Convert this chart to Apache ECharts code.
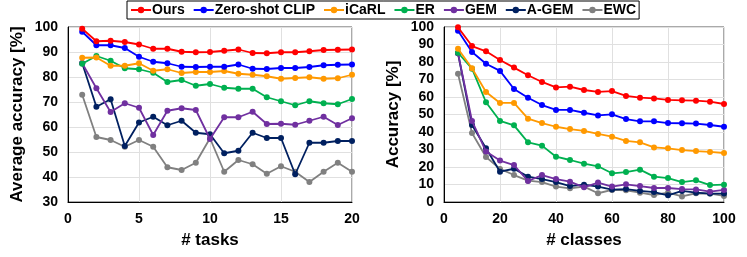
<!DOCTYPE html>
<html><head><meta charset="utf-8">
<script src="https://cdn.jsdelivr.net/npm/echarts@6/dist/echarts.min.js"></script>
<style>html,body{margin:0;padding:0;background:#fff}#c{width:747px;height:257px}</style>
</head><body><div id="c"></div>
<script>
const seriesNames = ['Ours','Zero-shot CLIP','iCaRL','ER','GEM','A-GEM','EWC'];
const colors = ['#ff0000','#0000ff','#ff9900','#00b050','#7030a0','#002060','#808080'];

const tasks = [1,2,3,4,5,6,7,8,9,10,11,12,13,14,15,16,17,18,19,20];
const tasksOurs = [99.3,94.3,94.5,94,93,91.3,91.3,90.1,89.9,90,90.5,91,89.6,89.5,89.9,89.9,90.3,90.8,90.9,91];
const tasksCLIP = [98.1,92.7,92.7,91.6,88.1,86.1,85.5,84.1,84,84.1,84.1,85,83.3,83.2,83.6,83.6,84,84.7,84.9,85];
const tasksICaRL = [87.7,87.8,84.5,84.5,85.5,82.5,83.1,81.6,82,82,82.4,81.3,80.9,80.3,79.3,79.6,79.9,79.3,79.5,80.9];
const tasksER = [85.3,88.4,86.5,83.5,83.1,81.7,78,78.8,76.5,77.2,75.7,75.3,75.3,71.9,70.3,68.7,70.3,69.5,69.1,71.2];
const tasksGEM = [85.5,75.5,66,69.5,67.7,56.8,66.5,67.5,66.8,55.2,63.9,63.9,66.1,61.2,61.3,60.9,62.5,64.1,60.8,63.5];
const tasksAGEM = [85.5,68.1,71.1,52.4,61.8,64.1,60.7,62.5,57.7,57.1,49.5,50.5,57.7,55.6,55.6,41.1,53.7,53.7,54.4,54.4];
const tasksEWC = [72.9,56,54.8,52.1,54.8,52.1,43.9,42.8,45.7,55.5,42.1,46.8,45.1,41.3,44.3,42.1,38,42.1,45.7,42.1];

const classes = [5,10,15,20,25,30,35,40,45,50,55,60,65,70,75,80,85,90,95,100];
const clsOurs = [99.8,89.1,86.1,81.1,76.8,72.4,68.6,65.5,65.9,64,62.9,63.4,60.6,59.6,59.2,58.3,58.1,57.9,57.3,56];
const clsCLIP = [97.9,85.7,79,74.9,64.6,59.6,55.4,52.6,52.6,51,49.5,50.1,47.4,46.1,46.1,45.1,45,44.8,44,43];
const clsICaRL = [87.6,76.4,62.9,56.6,56.6,47.6,45.1,43,41.7,40.6,38.9,37.3,34.9,34.1,31.2,30.7,29.7,29.1,28.6,28];
const clsER = [85.3,76.2,57,46.3,43.8,34.1,32.2,25.9,24,21.9,20.4,16.4,17.1,18.5,14.5,13.7,11.4,12.4,9.7,9.9];
const clsGEM = [85,46.3,28.8,23.7,21.1,12,15.4,13.1,11.6,8.4,11.1,8.8,10.1,9.1,8,8,7.4,7.2,5.9,6.9];
const clsAGEM = [85,44,30.7,17.3,19,14.5,13.1,11.4,9.1,9.9,8.8,7.1,7.4,6.3,5.7,3.8,6.3,5.3,4.8,4.8];
const clsEWC = [73.3,39.4,25.7,18.9,15.4,12.2,11.4,8.8,7.8,8.8,5,6.9,6.7,5.3,4,5.3,3.2,5,4.8,3.5];

const leftData = [tasksOurs,tasksCLIP,tasksICaRL,tasksER,tasksGEM,tasksAGEM,tasksEWC];
const rightData = [clsOurs,clsCLIP,clsICaRL,clsER,clsGEM,clsAGEM,clsEWC];

const FONT = '"Liberation Sans", Arial, sans-serif';
const tickLabel = {color:'#000', fontFamily:FONT, fontWeight:'bold', fontSize:14};
const nameStyle = {color:'#000', fontFamily:FONT, fontWeight:'bold', fontSize:17};
const split = {show:true, lineStyle:{color:'#e0e0e0', width:1}};

function mkSeries(xs, data, gi){
  return data.map((d,i)=>({
    name: seriesNames[i], type:'line', xAxisIndex:gi, yAxisIndex:gi,
    data: xs.map((x,k)=>[x,d[k]]), symbol:'circle', symbolSize:6,
    lineStyle:{width:1.8, color:colors[i]}, itemStyle:{color:colors[i]},
    z: 10-i, animation:false
  }));
}
const chart = echarts.init(document.getElementById('c'), null, {renderer:'canvas'});
chart.setOption({
  animation:false,
  legend:{
    data: seriesNames, top:1, left:127, itemGap:8, itemWidth:20, itemHeight:8,
    borderColor:'#000', borderWidth:1, padding:[2,3,2,3],
    textStyle:{color:'#000', fontFamily:'"Liberation Sans Narrow", "Liberation Sans", Arial, sans-serif', fontWeight:'bold', fontSize:14, padding:[0,0,0,-4]}
  },
  grid:[
    {left:68, right:395, top:27, bottom:55, show:true, borderColor:'#555', borderWidth:1},
    {left:444, right:23, top:27, bottom:55, show:true, borderColor:'#555', borderWidth:1}
  ],
  xAxis:[
    {gridIndex:0, type:'value', min:0, max:20, interval:5, name:'# tasks', nameLocation:'middle', nameGap:30, nameTextStyle:nameStyle,
     axisLabel:Object.assign({margin:10}, tickLabel), axisLine:{lineStyle:{color:'#000',width:1}}, axisTick:{show:false}, splitLine:split},
    {gridIndex:1, type:'value', min:0, max:100, interval:20, name:'# classes', nameLocation:'middle', nameGap:30, nameTextStyle:nameStyle,
     axisLabel:Object.assign({margin:10}, tickLabel), axisLine:{lineStyle:{color:'#000',width:1}}, axisTick:{show:false}, splitLine:split}
  ],
  yAxis:[
    {gridIndex:0, type:'value', min:30, max:100, interval:10, name:'Average accuracy [%]', nameLocation:'middle', nameGap:42, nameTextStyle:nameStyle,
     axisLabel:Object.assign({margin:10}, tickLabel), axisLine:{show:true, lineStyle:{color:'#000',width:1}}, axisTick:{show:false}, splitLine:split},
    {gridIndex:1, type:'value', min:0, max:100, interval:10, name:'Accuracy [%]', nameLocation:'middle', nameGap:42, nameTextStyle:nameStyle,
     axisLabel:Object.assign({margin:10}, tickLabel), axisLine:{show:true, lineStyle:{color:'#000',width:1}}, axisTick:{show:false}, splitLine:split}
  ],
  series: mkSeries(tasks, leftData, 0).concat(mkSeries(classes, rightData, 1))
});
</script></body></html>
